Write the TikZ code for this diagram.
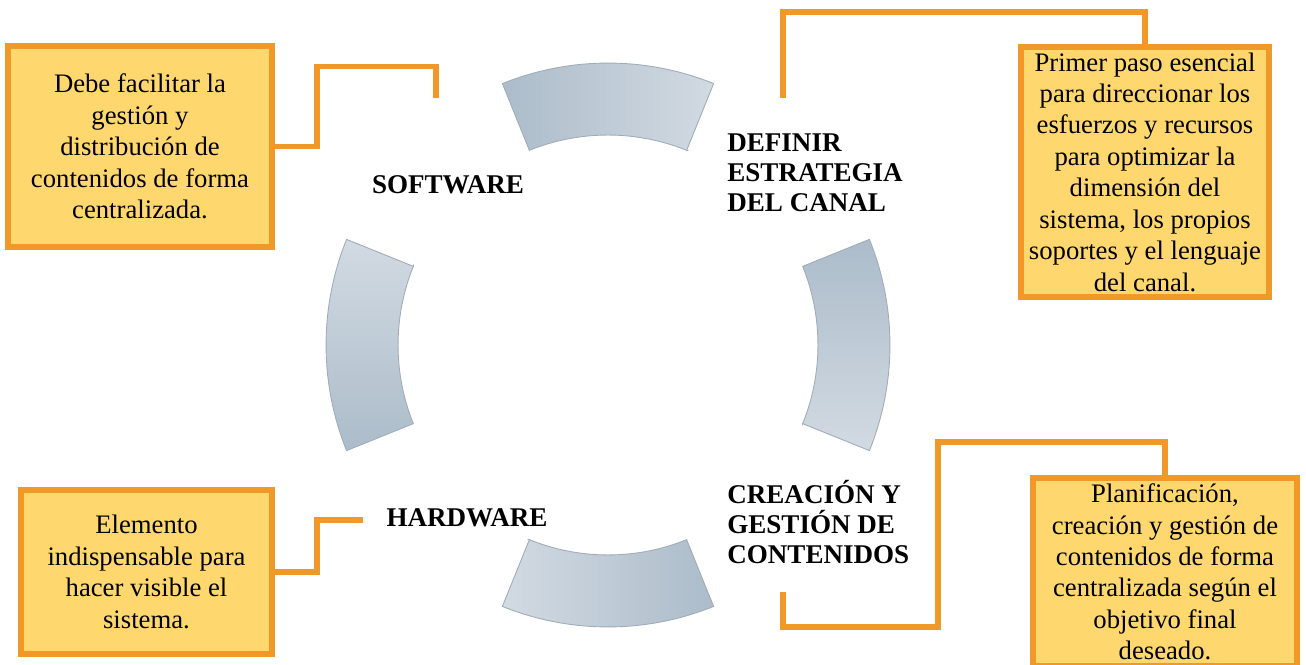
\documentclass[tikz,border=0pt]{standalone}
\usepackage{fontspec}
\setmainfont{Liberation Serif}
\usepackage{tikz}
\usetikzlibrary{positioning,calc}
\definecolor{boxorange}{RGB}{240,152,40}
\definecolor{boxfill}{RGB}{254,216,110}
\definecolor{ringdark}{RGB}{172,188,202}
\definecolor{ringlight}{RGB}{210,218,226}
\definecolor{ringedge}{RGB}{160,172,184}

\tikzset{
  descbox/.style={draw=boxorange, fill=boxfill, line width=3.4pt, align=center,
    inner sep=0pt, font=\fontsize{15.2}{17.9}\selectfont},
  steplabel/.style={font=\bfseries\fontsize{15.4}{17.2}\selectfont, inner sep=0pt},
  link/.style={draw=boxorange, line width=3.4pt},
  ringseg/.style={draw=ringedge, line width=0.5pt, left color=ringdark, right color=ringlight}
}

\begin{document}
\begin{tikzpicture}[x=0.02cm, y=-0.02cm]
    \clip (0,0) rectangle (1306,665);

    % ring of four segments
    \begin{scope}[shift={(608,345)}, x=1cm, y=1cm]
        \foreach \ang in {0,90,180,270}
            \shadedraw[ringseg, shading angle=\ang] (\ang-22:4.2) -- (\ang-22:5.64)
                arc[start angle=\ang-22, end angle=\ang+22, radius=5.64]
                -- (\ang+22:4.2) arc[start angle=\ang+22, end angle=\ang-22, radius=4.2] -- cycle;
    \end{scope}

    % step labels
    \node[steplabel] (sw) at (448,185) {SOFTWARE};
    \node[steplabel, anchor=west, align=left] (def) at (727,173) {DEFINIR\\ESTRATEGIA\\DEL CANAL};
    \node[steplabel] (hw) at (467,518) {HARDWARE};
    \node[steplabel, anchor=west, align=left] (cr) at (727,522) {CREACIÓN Y\\GESTIÓN DE\\CONTENIDOS};

    % description boxes
    \node[descbox, minimum width=5.28cm, minimum height=4.02cm] (swbox) at (140,146.5)
        {Debe facilitar la\\gestión y\\distribución de\\contenidos de forma\\centralizada.};
    \node[descbox, minimum width=4.98cm, minimum height=5cm] (defbox) at (1145,172)
        {Primer paso esencial\\para direccionar los\\esfuerzos y recursos\\para optimizar la\\dimensión del\\sistema, los propios\\soportes y el lenguaje\\del canal.};
    \node[descbox, minimum width=5.02cm, minimum height=3.28cm] (hwbox) at (146.5,572)
        {Elemento\\indispensable para\\hacer visible el\\sistema.};
    \node[descbox, minimum width=5.28cm, minimum height=3.76cm] (crbox) at (1165,572)
        {Planificación,\\creación y gestión de\\contenidos de forma\\centralizada según el\\objetivo final\\deseado.};

    % connectors
    \coordinate (swend) at (436,98);
    \coordinate (defend) at (783,98);
    \coordinate (hwend) at (363,520);
    \coordinate (crend) at (783,592);

    \draw[link] (swbox.east) -| ++(42,-80) -| (swend);
    \draw[link] (defend) -- ++(0,-86) -| (defbox.north);
    \draw[link] (hwbox.east) -| ++(42,-52) -- (hwend);
    \draw[link] (crend) |- ++(155,35) -- ++(0,-185) -| (crbox.north);
\end{tikzpicture}
\end{document}
